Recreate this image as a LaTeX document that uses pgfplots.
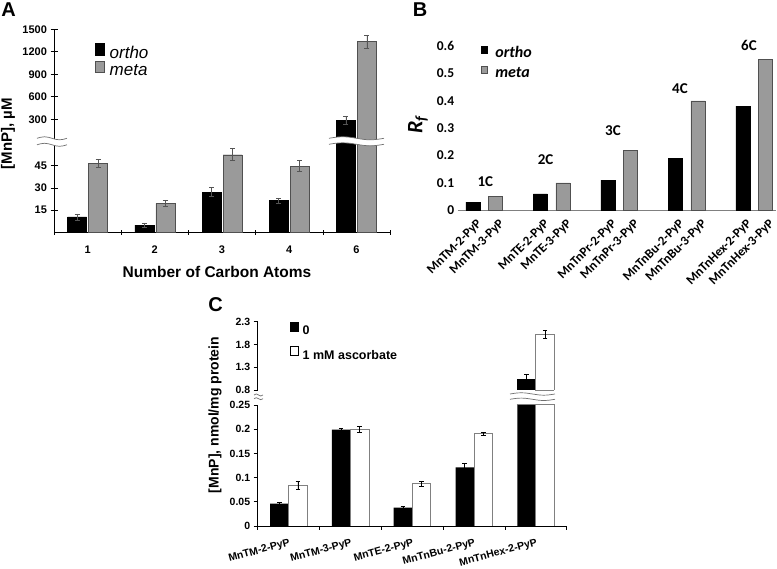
\documentclass[border=0pt]{standalone}
\usepackage{fontspec}
\setmainfont{Liberation Sans}
\newfontfamily\calibri{Carlito}
\usepackage{pgfplots}
\pgfplotsset{compat=1.18}
\usepackage{pgfplotstable}

\definecolor{metagray}{HTML}{9A9A9A}
\definecolor{edgegray}{HTML}{505050}
\definecolor{errgray}{HTML}{555555}
\definecolor{breakgray}{HTML}{707070}

\pgfplotstableread{
x ortho oerr meta merr
0 10.5 2.0 46.5 2.7
1 5.0 1.5 19.6 1.8
2 27.2 3.0 52.3 4.0
3 21.4 1.8 44.7 3.6
4 285 55 1338 85
}\dataA

\pgfplotstableread{
x val
0 0.03
3 0.06
6 0.11
9 0.19
12 0.38
}\Bortho
\pgfplotstableread{
x val
1 0.05
4 0.10
7 0.22
10 0.40
13 0.55
}\Bmeta

\pgfplotstableread{
x zero zerr asc aerr
0 0.046 0.003 0.084 0.008
1 0.199 0.002 0.200 0.006
2 0.038 0.003 0.087 0.006
3 0.121 0.009 0.191 0.003
4 1.05 0.095 2.02 0.08
}\dataC

% break band: x0, x1, ylow, yhigh, amplitude
\newcommand\brkband[5]{%
  \pgfmathsetmacro\qa{#1+(#2-#1)/4}%
  \pgfmathsetmacro\qb{#1+(#2-#1)/2}%
  \pgfmathsetmacro\qc{#1+3*(#2-#1)/4}%
  \pgfmathsetmacro\ylp{#3+#5}\pgfmathsetmacro\ylm{#3-#5}%
  \pgfmathsetmacro\yhp{#4+#5}\pgfmathsetmacro\yhm{#4-#5}%
  \fill[white] (#1,#3) sin (\qa,\ylp) cos (\qb,#3) sin (\qc,\ylm) cos (#2,#3)
     -- (#2,#4) sin (\qc,\yhm) cos (\qb,#4) sin (\qa,\yhp) cos (#1,#4) -- cycle;
  \draw[breakgray, line width=0.7pt] (#1,#3) sin (\qa,\ylp) cos (\qb,#3) sin (\qc,\ylm) cos (#2,#3);
  \draw[breakgray, line width=0.7pt] (#1,#4) sin (\qa,\yhp) cos (\qb,#4) sin (\qc,\yhm) cos (#2,#4);
}

\pgfplotsset{
  errA/.style={error bars/.cd, y dir=both, y explicit,
    error bar style={errgray, line width=0.6pt},
    error mark options={rotate=90, errgray, mark size=2.5pt, line width=0.6pt}},
  errC/.style={error bars/.cd, y dir=both, y explicit,
    error bar style={black, line width=0.6pt},
    error mark options={rotate=90, black, mark size=2.3pt, line width=0.6pt}},
}

\begin{document}
\begin{tikzpicture}[x=1pt,y=1pt]
\useasboundingbox (0,0) rectangle (777,569);

% ================= Panel A, lower part =================
\begin{axis}[
  at={(54pt,336.5pt)}, anchor=south west, scale only axis,
  width=336pt, height=89.2pt,
  xmin=-0.5, xmax=4.5, ymin=0, ymax=60,
  ybar=2pt, bar width=19pt,
  axis x line*=bottom, axis y line*=left,
  axis line style={black, line width=0.6pt},
  xtick={0,...,4}, xticklabels={1,2,3,4,6},
  major x tick style={draw=none},
  minor xtick={-0.5,0.5,1.5,2.5,3.5,4.5}, minor tick length=5pt,
  ytick={15,30,45}, tick align=center, major tick length=7pt,
  tick style={black, line width=0.6pt},
  ticklabel style={font=\bfseries\fontsize{11}{11}\selectfont},
  /pgf/number format/assume math mode=true,
  xticklabel style={yshift=-6pt},
]
\addplot[fill=black, draw=black, errA] table[x=x, y=ortho, y error=oerr] {\dataA};
\addplot[fill=metagray, draw=edgegray, errA] table[x=x, y=meta, y error=merr] {\dataA};
\end{axis}

% ================= Panel A, upper part =================
\begin{axis}[
  at={(54pt,425.7pt)}, anchor=south west, scale only axis,
  width=336pt, height=114pt,
  xmin=-0.5, xmax=4.5, ymin=-20, ymax=1500,
  ybar=2pt, bar width=19pt,
  axis x line=none, axis y line*=left,
  axis line style={black, line width=0.6pt},
  ytick={300,600,900,1200,1500}, tick align=center, major tick length=7pt,
  tick style={black, line width=0.6pt},
  ticklabel style={font=\bfseries\fontsize{11}{11}\selectfont},
  /pgf/number format/assume math mode=true,
  /pgf/number format/1000 sep={},
  legend style={at={(0.122,0.878)}, anchor=north west, draw=none, fill=none,
    inner sep=0pt, outer sep=0pt, row sep=-0.4pt,
    font=\itshape\fontsize{17}{17}\selectfont,
    nodes={inner sep=0pt, text height=12pt, text depth=3pt}},
  legend cell align=left,
  legend image code/.code={\draw[#1] (0pt,-1.5pt) rectangle (9.3pt,10.2pt); \path (14.3pt,0pt);},
]
\addplot[fill=black, draw=black, restrict x to domain=3.5:4.5, errA]
  table[x=x, y=ortho, y error=oerr] {\dataA};
\addlegendentry{ortho}
\addplot[fill=metagray, draw=edgegray, restrict x to domain=3.5:4.5, errA]
  table[x=x, y=meta, y error=merr] {\dataA};
\addlegendentry{meta}
\end{axis}

\brkband{37}{67}{424.2}{430.7}{1.5}
\brkband{329}{384}{424.7}{430.7}{1.5}

\node[font=\bfseries\fontsize{20}{20}\selectfont] at (8.5,559) {A};
\node[rotate=90, font=\bfseries\fontsize{15}{15}\selectfont] at (8,435.5) {[MnP], µM};
\node[font=\bfseries\fontsize{15.5}{15.5}\selectfont] at (217,297) {Number of Carbon Atoms};

% ================= Panel B =================
\begin{axis}[
  at={(457.7pt,358.7pt)}, anchor=south west, scale only axis,
  width=318.3pt, height=164.3pt,
  xmin=-0.68, xmax=13.47, ymin=0, ymax=0.6,
  clip=false,
  axis x line*=bottom, axis y line*=left,
  axis line style={draw=gray, line width=0.8pt},
  y axis line style={draw=none},
  xtick={0,1,3,4,6,7,9,10,12,13},
  xticklabels={MnTM-2-PyP,MnTM-3-PyP,MnTE-2-PyP,MnTE-3-PyP,MnTnPr-2-PyP,MnTnPr-3-PyP,MnTnBu-2-PyP,MnTnBu-3-PyP,MnTnHex-2-PyP,MnTnHex-3-PyP},
  major tick length=0pt, tick style={draw=none},
  ytick={0,0.1,0.2,0.3,0.4,0.5,0.6},
  yticklabel style={font=\calibri\bfseries\fontsize{13.5}{13.5}\selectfont,
    /pgf/number format/fixed},
  xticklabel style={font=\calibri\bfseries\fontsize{13}{13}\selectfont,
    xshift=3pt, yshift=-8pt, rotate=45, anchor=north east, inner sep=0pt},
  /pgf/number format/assume math mode=true,
  legend style={at={(0.073,0.998)}, anchor=north west, draw=none, fill=none,
    inner sep=0pt, outer sep=0pt, row sep=5.2pt,
    font=\calibri\bfseries\itshape\fontsize{16}{16}\selectfont,
    nodes={inner sep=0pt, text height=11pt, text depth=3pt}},
  legend cell align=left,
  legend image code/.code={\draw[#1] (0pt,0.7pt) rectangle (6.3pt,7.3pt); \path (14pt,0pt);},
]
\addplot[ybar, bar width=14pt, bar shift=0pt, fill=black, draw=black, forget plot]
  table[x=x, y=val] {\Bortho};
\addplot[ybar, bar width=14pt, bar shift=0pt, fill=metagray, draw=edgegray, forget plot]
  table[x=x, y=val] {\Bmeta};
\addlegendimage{fill=black, draw=black}
\addlegendentry{ortho}
\addlegendimage{fill=metagray, draw=edgegray}
\addlegendentry{meta}
\node[font=\calibri\bfseries\fontsize{15}{15}\selectfont] at (axis cs:0.55,0.104) {1C};
\node[font=\calibri\bfseries\fontsize{15}{15}\selectfont] at (axis cs:3.23,0.184) {2C};
\node[font=\calibri\bfseries\fontsize{15}{15}\selectfont] at (axis cs:6.22,0.29) {3C};
\node[font=\calibri\bfseries\fontsize{15}{15}\selectfont] at (axis cs:9.2,0.445) {4C};
\node[font=\calibri\bfseries\fontsize{15}{15}\selectfont] at (axis cs:12.27,0.603) {6C};
\end{axis}

\node[font=\bfseries\fontsize{20}{20}\selectfont] at (420,559) {B};
\node[rotate=90, font=\calibri\bfseries\itshape\fontsize{22}{22}\selectfont] at (418,444) {R\textsubscript{f}};

% ================= Panel C, lower part =================
\begin{axis}[
  at={(257.7pt,43pt)}, anchor=south west, scale only axis,
  width=309pt, height=121pt,
  xmin=-0.5, xmax=4.5, ymin=0, ymax=0.25,
  ybar=0pt, bar width=18.5pt,
  axis x line*=bottom, axis y line*=left,
  axis line style={black, line width=0.7pt},
  xtick={0,...,4},
  xticklabels={MnTM-2-PyP,MnTM-3-PyP,MnTE-2-PyP,MnTnBu-2-PyP,MnTnHex-2-PyP},
  major x tick style={draw=none},
  minor xtick={-0.5,0.5,1.5,2.5,3.5,4.5}, minor tick length=4pt,
  ytick={0,0.05,0.1,0.15,0.2,0.25}, tick align=outside, major tick length=4pt,
  tick style={black, line width=0.6pt},
  yticklabel style={font=\bfseries\fontsize{10.5}{10.5}\selectfont,
    /pgf/number format/fixed, /pgf/number format/precision=2},
  xticklabel style={font=\bfseries\fontsize{10.5}{10.5}\selectfont,
    xshift=0pt, yshift=-8pt, rotate=15, anchor=north east, inner sep=0pt},
  /pgf/number format/assume math mode=true,
]
\addplot[fill=black, draw=none, errC] table[x=x, y=zero, y error=zerr] {\dataC};
\addplot[fill=white, draw=gray, line width=0.8pt, errC] table[x=x, y=asc, y error=aerr] {\dataC};
\end{axis}

% ================= Panel C, upper part =================
\begin{axis}[
  at={(257.7pt,179pt)}, anchor=south west, scale only axis,
  width=309pt, height=68.3pt,
  xmin=-0.5, xmax=4.5, ymin=0.8, ymax=2.3,
  ybar=0pt, bar width=18.5pt,
  axis x line=none, axis y line*=left,
  axis line style={black, line width=0.7pt},
  ytick={0.8,1.3,1.8,2.3}, tick align=outside, major tick length=4pt,
  tick style={black, line width=0.6pt},
  yticklabel style={font=\bfseries\fontsize{10.5}{10.5}\selectfont,
    /pgf/number format/fixed, /pgf/number format/precision=2},
  /pgf/number format/assume math mode=true,
  legend style={at={(0.1045,0.993)}, anchor=north west, draw=none, fill=none,
    inner sep=0pt, outer sep=0pt, row sep=8.8pt,
    font=\bfseries\fontsize{12.5}{12.5}\selectfont,
    nodes={inner sep=0pt, text height=9.5pt, text depth=2.5pt}},
  legend cell align=left,
  legend image code/.code={\draw[#1,draw=black,line width=0.6pt] (0pt,0pt) rectangle (8.3pt,9pt); \path (12pt,0pt);},
]
\addplot[fill=black, draw=none, restrict x to domain=3.5:4.5, errC]
  table[x=x, y=zero, y error=zerr] {\dataC};
\addlegendentry{0}
\addplot[fill=white, draw=gray, line width=0.8pt, restrict x to domain=3.5:4.5, errC]
  table[x=x, y=asc, y error=aerr] {\dataC};
\addlegendentry{1 mM ascorbate}
\end{axis}

\draw[gray, line width=0.8pt] (535.2,178.8) -- (553.6,178.8);
\draw[gray, line width=0.8pt] (516.7,164.2) -- (553.6,164.2);
\brkband{510}{555}{169.7}{175}{1.2}
\brkband{254}{263}{170.3}{174}{1}

\node[font=\bfseries\fontsize{20}{20}\selectfont] at (215.5,264.5) {C};
\node[rotate=90, font=\bfseries\fontsize{14}{14}\selectfont] at (215,154) {[MnP], nmol/mg protein};

\end{tikzpicture}
\end{document}
